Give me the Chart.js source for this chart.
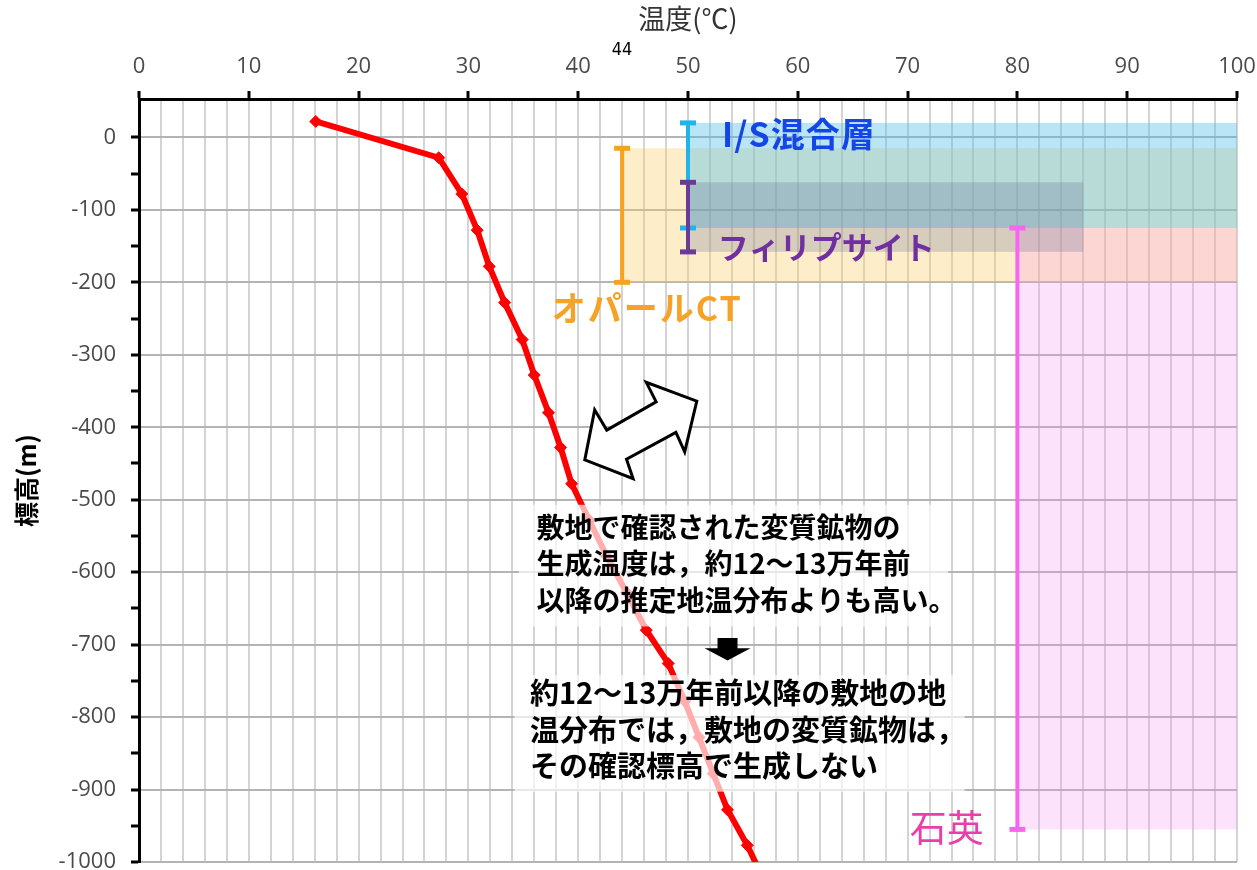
<!DOCTYPE html>
<html lang="ja">
<head>
<meta charset="utf-8">
<title>推定地温分布と変質鉱物の生成温度</title>
<script src="https://cdn.jsdelivr.net/npm/chart.js@4.4.1/dist/chart.umd.min.js"></script>
<style>
  html, body { margin: 0; padding: 0; background: #fff; }
  #wrap { width: 1257px; height: 870px; }
</style>
</head>
<body>
<div id="wrap"><canvas id="chart" width="1257" height="870"></canvas></div>
<script>
// Data
const tempValues = [16.1, 27.3, 29.4, 30.8, 31.9, 33.3, 34.9, 36.0, 37.3, 38.4, 39.4,
  41.0, 42.6, 44.4, 46.2, 48.2, 49.7, 51.0, 52.3, 53.6, 55.4, 57.0];
const elevValues = [22, -28, -78, -128, -178, -228, -279, -328, -380, -428, -478,
  -528, -578, -628, -680, -726, -778, -828, -878, -928, -977, -1028];

// mineral ranges: temperature, top / bottom elevation, band right end
const mineralNames = ["I/S混合層", "オパールCT", "フィリプサイト", "石英"];
const mineralTemp = [50, 44, 50, 80];
const mineralTop = [20, -15, -62, -125];
const mineralBottom = [-125, -200, -158, -955];
const bandEnd = [100, 100, 86, 100];
const lineColors = ["#1fb4ea", "#f7a21e", "#6b3a98", "#f766ee"];
const bandColors = ["rgba(80,190,235,0.40)", "rgba(250,205,100,0.35)",
  "rgba(90,100,145,0.24)", "rgba(245,140,240,0.25)"];
const textColors = ["#1446e6", "#f5a227", "#7030a0", "#ea3fa8"];

const xTicks = [0, 10, 20, 30, 40, 50, 60, 70, 80, 90, 100];
const yTicks = [0, -100, -200, -300, -400, -500, -600, -700, -800, -900, -1000];

const note1 = ["敷地で確認された変質鉱物の", "生成温度は，約12～13万年前", "以降の推定地温分布よりも高い。"];
const note2 = ["約12～13万年前以降の敷地の地", "温分布では，敷地の変質鉱物は，", "その確認標高で生成しない"];

const JP = '"Noto Sans CJK JP", "Noto Sans", sans-serif';

// helpers
function px(chart, x) { return chart.scales.x.getPixelForValue(x); }
function py(chart, y) { return chart.scales.y.getPixelForValue(y); }

function errorBar(i) {
  return {
    data: [{ x: mineralTemp[i], y: mineralTop[i] }, { x: mineralTemp[i], y: mineralBottom[i] }],
    showLine: true,
    borderColor: lineColors[i],
    borderWidth: 4,
    pointStyle: "line",
    pointRadius: 8,
    pointBorderWidth: 5,
    pointBorderColor: lineColors[i],
  };
}

// Bands under the datasets
const bandPlugin = {
  id: "bands",
  beforeDatasetsDraw(chart) {
    const ctx = chart.ctx;
    const area = chart.chartArea;
    ctx.save();
    ctx.beginPath();
    ctx.rect(area.left, area.top, area.right - area.left, area.bottom - area.top);
    ctx.clip();
    [1, 0, 3, 2].forEach((i) => {
      const x0 = px(chart, mineralTemp[i]);
      const x1 = px(chart, bandEnd[i]);
      const y0 = py(chart, mineralTop[i]);
      const y1 = py(chart, mineralBottom[i]);
      ctx.fillStyle = bandColors[i];
      ctx.fillRect(x0, y0, x1 - x0, y1 - y0);
    });
    ctx.restore();
  },
};

// Notes, arrows and labels over the datasets
const notePlugin = {
  id: "notes",
  afterDatasetsDraw(chart) {
    const ctx = chart.ctx;
    ctx.save();

    // white note boxes
    ctx.fillStyle = "rgba(255,255,255,0.68)";
    [[34.6, -507, 73.7, -675], [34.2, -742, 75.2, -903]].forEach((b) => {
      const x0 = px(chart, b[0]), y0 = py(chart, b[1]);
      ctx.fillRect(x0, y0, px(chart, b[2]) - x0, py(chart, b[3]) - y0);
    });

    ctx.fillStyle = "#000";
    ctx.textBaseline = "middle";
    ctx.textAlign = "left";
    ctx.font = "bold 28px " + JP;
    [-538, -588, -639].forEach((y, i) => ctx.fillText(note1[i], px(chart, 36.2), py(chart, y)));
    ctx.font = "bold 29px " + JP;
    [-767, -818, -868].forEach((y, i) => ctx.fillText(note2[i], px(chart, 35.6), py(chart, y)));

    // black down arrow
    const ax = px(chart, 53.6);
    ctx.beginPath();
    ctx.moveTo(ax - 10, py(chart, -691));
    ctx.lineTo(ax + 10, py(chart, -691));
    ctx.lineTo(ax + 10, py(chart, -705));
    ctx.lineTo(ax + 23, py(chart, -705));
    ctx.lineTo(ax, py(chart, -722));
    ctx.lineTo(ax - 23, py(chart, -705));
    ctx.lineTo(ax - 10, py(chart, -705));
    ctx.closePath();
    ctx.fill();

    // double headed outline arrow
    const arrow = [[40.6, -445], [41.5, -376], [42.6, -404], [47.1, -365], [46.2, -338],
      [50.8, -364], [49.7, -434], [48.9, -407], [44.4, -444], [45.0, -471]];
    ctx.beginPath();
    arrow.forEach((p, i) => {
      if (i === 0) ctx.moveTo(px(chart, p[0]), py(chart, p[1]));
      else ctx.lineTo(px(chart, p[0]), py(chart, p[1]));
    });
    ctx.closePath();
    ctx.fillStyle = "#fff";
    ctx.fill();
    ctx.strokeStyle = "#000";
    ctx.lineWidth = 3;
    ctx.lineJoin = "miter";
    ctx.stroke();

    // mineral labels: x, y, size, weight, letter spacing
    const labelPos = [[53.1, 4, 34, "bold", 1], [37.6, -235, 34, "bold", 2],
      [52.7, -151, 31, "bold", 0], [70.2, -953, 37, "normal", 0]];
    labelPos.forEach((l, i) => {
      ctx.font = l[3] + " " + l[2] + "px " + JP;
      ctx.letterSpacing = l[4] + "px";
      ctx.fillStyle = textColors[i];
      ctx.fillText(mineralNames[i], px(chart, l[0]), py(chart, l[1]));
    });
    ctx.letterSpacing = "0px";
    ctx.restore();
  },
  afterDraw(chart) {
    const ctx = chart.ctx;
    ctx.save();
    ctx.fillStyle = "#000";
    ctx.font = '18px "Liberation Sans Narrow", "DejaVu Sans Condensed", sans-serif';
    ctx.textAlign = "center";
    ctx.textBaseline = "middle";
    ctx.fillText("44", px(chart, 44), 50);
    ctx.restore();
  },
};

const ctx = document.getElementById("chart").getContext("2d");
const chart = new Chart(ctx, {
  type: "scatter",
  data: {
    datasets: [
      {
        data: tempValues.map((t, i) => ({ x: t, y: elevValues[i] })),
        showLine: true,
        borderColor: "#ff0000",
        borderWidth: 6,
        pointStyle: "rectRot",
        pointRadius: 6,
        pointBackgroundColor: "#ff0000",
        pointBorderColor: "#ff0000",
        pointBorderWidth: 1,
      },
      errorBar(2),
      errorBar(0),
      errorBar(1),
      errorBar(3),
    ],
  },
  options: {
    responsive: false,
    animation: false,
    layout: { autoPadding: false, padding: { left: 0, right: 20, top: 0, bottom: 8 } },
    plugins: { legend: { display: false }, tooltip: { enabled: false } },
    scales: {
      x: {
        type: "linear",
        position: "top",
        min: 0,
        max: 100,
        afterFit: (s) => {
          s.height = 99;
          s.paddingLeft = 0;
          s.paddingRight = 0;
        },
        ticks: {
          stepSize: 2,
          autoSkip: false,
          maxRotation: 0,
          padding: 11,
          color: "#4a4a4a",
          font: { family: '"Open Sans", sans-serif', size: 22 },
          callback: (v) => (xTicks.includes(v) ? v : ""),
        },
        grid: {
          color: "#d4d4d4",
          lineWidth: 2,
          tickLength: 8,
          tickWidth: 3,
          tickColor: (c) => (c.tick && xTicks.includes(c.tick.value) ? "#000" : "rgba(0,0,0,0)"),
        },
        border: { display: true, color: "#000", width: 3 },
        title: {
          display: true,
          text: "温度(℃)",
          color: "#333",
          padding: { top: 3, bottom: 0 },
          font: { family: JP, size: 27 },
        },
      },
      y: {
        type: "linear",
        min: -1000,
        max: 53,
        afterFit: (s) => {
          s.width = 139;
          s.paddingTop = 0;
          s.paddingBottom = 0;
        },
        ticks: {
          stepSize: 50,
          autoSkip: false,
          padding: 4,
          color: "#4a4a4a",
          font: { family: '"Open Sans", sans-serif', size: 22, lineHeight: 0.4 },
          // en space keeps the labels clear of the tick marks
          callback: (v) => (yTicks.includes(v) ? v + "\u2002" : ""),
        },
        grid: {
          color: (c) => (c.tick && yTicks.includes(c.tick.value) ? "#b4b4b4" : "rgba(0,0,0,0)"),
          lineWidth: 2,
          tickLength: 8,
          tickWidth: 3,
          tickColor: (c) => (c.tick && c.tick.value <= 0 ? "#000" : "rgba(0,0,0,0)"),
        },
        border: { display: true, color: "#000", width: 3 },
        title: {
          display: true,
          text: "標高(m)",
          color: "#000",
          padding: { top: 11, bottom: 0 },
          font: { family: JP, size: 25, weight: "bold" },
        },
      },
    },
  },
  plugins: [bandPlugin, notePlugin],
});
</script>
</body>
</html>
